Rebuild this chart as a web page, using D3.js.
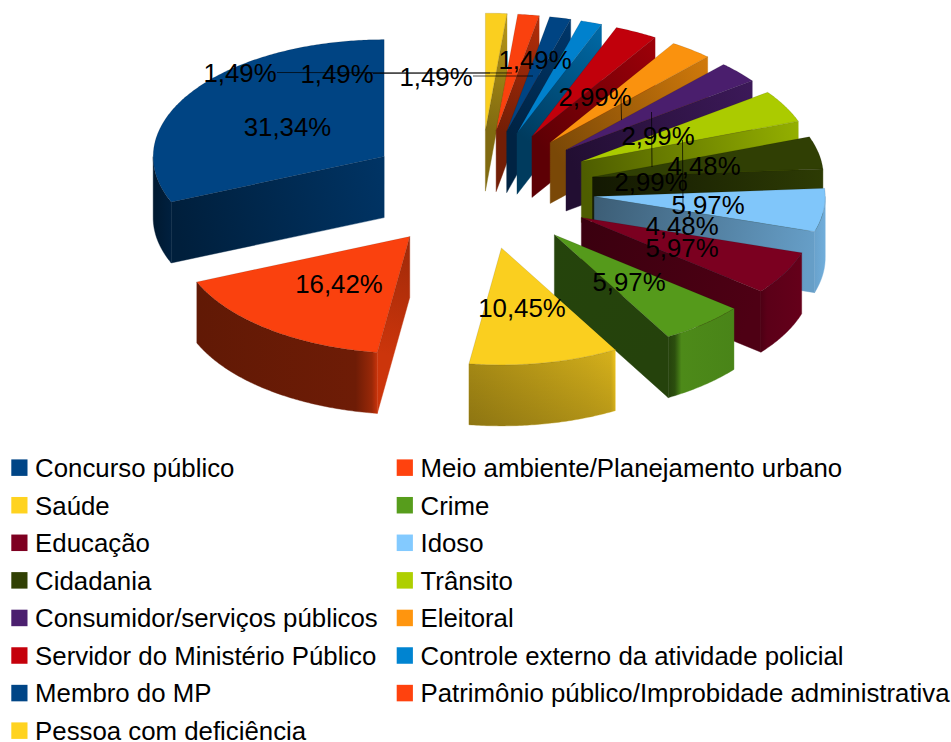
<!DOCTYPE html>
<html><head><meta charset="utf-8">
<style>html,body{margin:0;padding:0;background:#fff}svg{display:block}text{font-family:"Liberation Sans",Arial,sans-serif;fill:#000}</style>
<script src="https://cdn.jsdelivr.net/npm/d3@7"></script></head>
<body><svg id="c" width="951" height="742"></svg>
<script>
const categories = ["Concurso público","Meio ambiente/Planejamento urbano","Saúde","Crime","Educação","Idoso","Cidadania","Trânsito","Consumidor/serviços públicos","Eleitoral","Servidor do Ministério Público","Controle externo da atividade policial","Membro do MP","Patrimônio público/Improbidade administrativa","Pessoa com deficiência"];
const values = [31.34,16.42,10.45,5.97,5.97,5.97,4.48,4.48,2.99,2.99,2.99,1.49,1.49,1.49,1.49];
const colors = ["#004586","#ff420e","#ffd320","#579d1c","#7e0021","#83caff","#314004","#aecf00","#4b1f6f","#ff950e","#c5000b","#0084d1","#004586","#ff420e","#ffd320"];
// label centres, same order as values
const labelX = [287.5,339,522,629,682,708,682,704,651,658,595,535,436,337,240];
const labelY = [127,284,308,282,248,205,226,166,182,136,97,60,77,74,73];
// leader lines [x1,y1,x2,y2]
const leaders = [[277,72.5,512,73],[373,73.5,490,73],[473,76,533,76],[621,97,621.5,120],[651.5,112,652,167],[682.5,140,683,207]];
// wall shading (brightness factor of the slice colour)
const radialShade = [[.75,.45],[.62,.8],[.46,.8],[.43,.42],[.46,.62],[.46,.78],[.38,.92],[.45,.85],[.45,.8],[.48,.82],[.47,.8],[.45,.8],[.5,.8],[.45,.7],[.5,.72]];
const rimShade = {
  0:[[0,.36],[1,.47]],
  1:[[0,.38],[.88,.43],[.97,.6],[1,.78]],
  2:[[0,.66],[.8,.8],[.97,.84],[1,.94]],
  3:[[0,.42],[.1,.5],[.2,.88],[1,.84]],
  4:[[0,.62],[.15,.72],[1,.8]],
  5:[[0,.8],[1,.86]]
};
const rimOverlay = {2:.16};

const W=951,H=742,cx=480,cy=189.5,Rx=231,Ry=117,depth=61,explodeX=.498,explodeY=.508,fs=25.8;
const sx=d3.scaleLinear().domain([-1,1]).range([cx-Rx,cx+Rx]);
const sy=d3.scaleLinear().domain([-1,1]).range([cy-Ry,cy+Ry]);
const svg=d3.select("#c");
const defs=svg.append("defs");
const line=d3.line();
const mul=(c,f)=>{const r=d3.rgb(c);return d3.rgb(r.r*f,r.g*f,r.b*f).formatHex();};
let gid=0;
function grad(x1,y1,x2,y2,color,stops){
  const id="g"+(gid++);
  const g=defs.append("linearGradient").attr("id",id).attr("gradientUnits","userSpaceOnUse")
    .attr("x1",x1).attr("y1",y1).attr("x2",x2).attr("y2",y2);
  stops.forEach(s=>g.append("stop").attr("offset",s[0]).attr("stop-color",mul(color,s[1])));
  return `url(#${id})`;
}
const arcs=d3.pie().sort(null).startAngle(0).endAngle(2*Math.PI)(values);
const slices=arcs.map((d,i)=>{
  const mid=(d.startAngle+d.endAngle)/2;
  const ox=-Math.sin(mid)*explodeX, oy=-Math.cos(mid)*explodeY;
  const P=(a,r)=>[sx(ox-r*Math.sin(a)),sy(oy-r*Math.cos(a))];
  return {i,a0:d.startAngle,a1:d.endAngle,P,apex:P(0,0)};
});
slices.sort((a,b)=>a.apex[1]-b.apex[1]);
const rimPts=(s,a,b)=>{const n=Math.max(2,Math.ceil((b-a)*90));return d3.range(n+1).map(k=>s.P(a+(b-a)*k/n,1));};
const chart=svg.append("g");
slices.forEach(s=>{
  const c=colors[s.i], g=chart.append("g");
  const outline=[s.apex,...rimPts(s,s.a0,s.a1)];
  const ctr=[d3.mean(outline,p=>p[0]),d3.mean(outline,p=>p[1])];
  [s.a0,s.a1].forEach(a=>{
    const q=s.P(a,1), p=s.apex;
    let nx=-(q[1]-p[1]), ny=q[0]-p[0];
    const mx=(p[0]+q[0])/2-ctr[0], my=(p[1]+q[1])/2-ctr[1];
    if(nx*mx+ny*my<0){nx=-nx;ny=-ny;}
    if(ny<=0.01) return;
    const sh=radialShade[s.i];
    const fill=grad(p[0],p[1],q[0],q[1],c,[[0,sh[0]],[1,sh[1]]]);
    g.append("path").attr("d",line([p,q,[q[0],q[1]+depth],[p[0],p[1]+depth]])+"Z").attr("fill",fill).attr("stroke",fill).attr("stroke-width",.4);
  });
  const lo=Math.max(s.a0,Math.PI/2), hi=Math.min(s.a1,Math.PI*1.5);
  if(hi>lo){
    const top=rimPts(s,lo,hi), bot=top.map(p=>[p[0],p[1]+depth]).reverse();
    const stops=rimShade[s.i]||[[0,.8],[1,.8]];
    const fill=grad(top[0][0],0,top[top.length-1][0],0,c,stops);
    const d=line(top.concat(bot))+"Z";
    g.append("path").attr("d",d).attr("fill",fill).attr("stroke",fill).attr("stroke-width",.4);
    if(rimOverlay[s.i]){
      const id="o"+s.i, yMin=d3.min(top,p=>p[1]), yMax=d3.max(bot,p=>p[1]);
      const o=defs.append("linearGradient").attr("id",id).attr("gradientUnits","userSpaceOnUse")
        .attr("x1",0).attr("y1",yMin).attr("x2",0).attr("y2",yMax);
      o.append("stop").attr("offset",0).attr("stop-color","#000").attr("stop-opacity",0);
      o.append("stop").attr("offset",1).attr("stop-color","#000").attr("stop-opacity",rimOverlay[s.i]);
      g.append("path").attr("d",d).attr("fill",`url(#${id})`);
    }
  }
  g.append("path").attr("d",line(outline)+"Z").attr("fill",mul(c,.98)).attr("stroke","#000").attr("stroke-opacity",.18).attr("stroke-width",.6);
});
svg.append("g").selectAll("line").data(leaders).join("line")
  .attr("x1",d=>d[0]).attr("y1",d=>d[1]).attr("x2",d=>d[2]).attr("y2",d=>d[3])
  .attr("stroke","#000").attr("stroke-opacity",.7).attr("stroke-width",1);
svg.append("g").selectAll("text").data(values).join("text")
  .attr("x",(d,i)=>labelX[i]).attr("y",(d,i)=>labelY[i]+9)
  .attr("text-anchor","middle").attr("font-size",fs)
  .text(d=>d.toFixed(2).replace(".",",")+"%");
const colX=[11.3,396.7], rowY=d3.scaleLinear().domain([0,7]).range([467.7,730.7]);
const leg=svg.append("g").selectAll("g").data(categories).join("g")
  .attr("transform",(d,i)=>`translate(${colX[i%2]},${rowY(Math.floor(i/2))})`);
leg.append("rect").attr("x",0).attr("y",-8.3).attr("width",16.2).attr("height",16.5).attr("fill",(d,i)=>colors[i]);
leg.append("text").attr("x",23.8).attr("y",9.3).attr("font-size",fs).text(d=>d);
</script></body></html>
